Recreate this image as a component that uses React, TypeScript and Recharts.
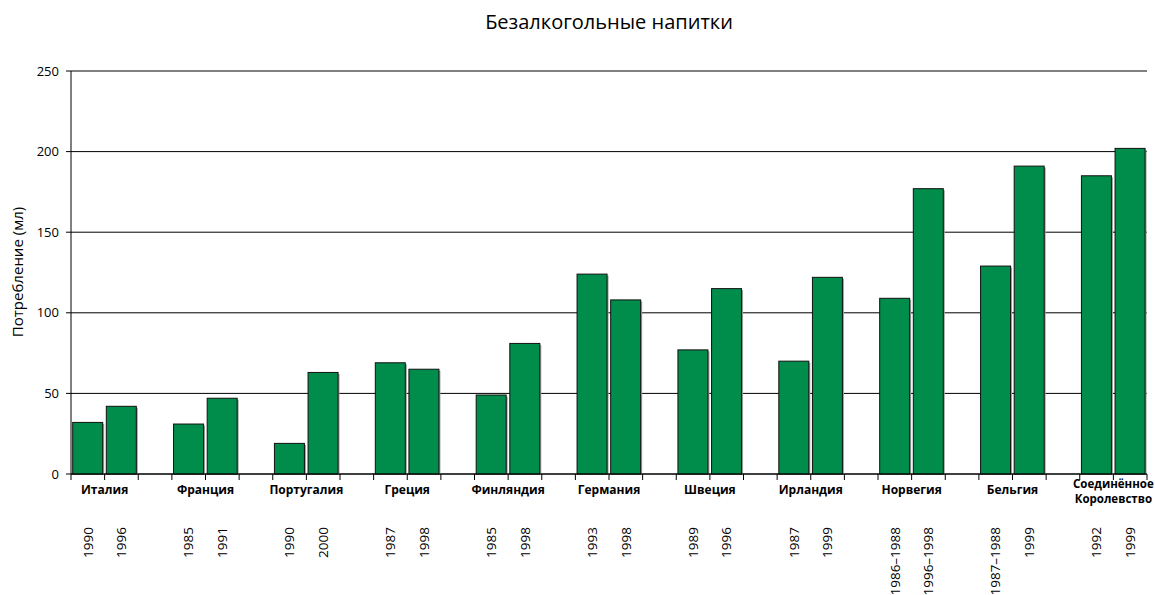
import { BarChart, Bar, XAxis, YAxis, CartesianGrid } from "recharts";

document.body.style.margin = "0";

const countries = [
  "Италия",
  "Франция",
  "Португалия",
  "Греция",
  "Финляндия",
  "Германия",
  "Швеция",
  "Ирландия",
  "Норвегия",
  "Бельгия",
  "Соединённое Королевство",
];
const firstYears = ["1990", "1985", "1990", "1987", "1985", "1993", "1989", "1987", "1986–1988", "1987–1988", "1992"];
const secondYears = ["1996", "1991", "2000", "1998", "1998", "1998", "1996", "1999", "1996–1998", "1999", "1999"];
const firstValues = [32, 31, 19, 69, 49, 124, 77, 70, 109, 129, 185];
const secondValues = [42, 47, 63, 65, 81, 108, 115, 122, 177, 191, 202];
const yTicks = [0, 50, 100, 150, 200, 250];

type Row = { key: string; value: number | null; year: string; country: string };

const rows: Row[] = [];
countries.forEach((c, i) => {
  rows.push({ key: `${i}a`, value: firstValues[i], year: firstYears[i], country: c });
  rows.push({ key: `${i}b`, value: secondValues[i], year: secondYears[i], country: "" });
  if (i < countries.length - 1) rows.push({ key: `${i}gap`, value: null, year: "", country: "" });
});

const FONT = "'Open Sans', 'Noto Sans', sans-serif";
const PLOT_LEFT = 71;
const PLOT_RIGHT = 1147;
const BAND = (PLOT_RIGHT - PLOT_LEFT) / rows.length;

function XTick(props: any) {
  const { x, y, payload } = props;
  const idx = rows.findIndex((r) => r.key === payload.value);
  const row = rows[idx];
  const left = x - BAND / 2;
  const lines = row.country ? row.country.split(" ") : [];
  return (
    <g>
      <line x1={left} x2={left} y1={y} y2={y + 6} stroke="#000" />
      {idx === rows.length - 1 && <line x1={x + BAND / 2} x2={x + BAND / 2} y1={y} y2={y + 6} stroke="#000" />}
      {lines.map((l, k) => (
        <text
          key={k}
          x={x + BAND / 2}
          y={y + (lines.length > 1 ? 14 + k * 15 : 20)}
          textAnchor="middle"
          fontFamily={FONT}
          fontWeight="bold"
          fontSize={lines.length > 1 ? 11.5 : 12}
          fill="#000"
        >
          {l}
        </text>
      ))}
      {row.year && (
        <text
          x={x}
          y={y + 53}
          dy="0.35em"
          textAnchor="end"
          transform={`rotate(-90, ${x}, ${y + 53})`}
          fontFamily={FONT}
          fontSize={13.5}
          fill="#000"
        >
          {row.year}
        </text>
      )}
    </g>
  );
}

function ShadowBar(props: any) {
  const { x, y, width, height } = props;
  if (!height || height <= 0) return null;
  return (
    <g>
      <rect x={x + 1.5} y={y + 1.5} width={width} height={height - 1.5} fill="#a0a0a0" />
      <rect x={x} y={y} width={width} height={height} fill="#008C4A" stroke="#111" strokeWidth={1} />
    </g>
  );
}

export default function App() {
  return (
    <div style={{ position: "relative", width: 1155, height: 595, background: "#fff", overflow: "hidden" }}>
      <div
        style={{
          position: "absolute",
          left: PLOT_LEFT,
          width: PLOT_RIGHT - PLOT_LEFT,
          top: 8,
          textAlign: "center",
          fontFamily: FONT,
          fontSize: 20,
          color: "#000",
        }}
      >
        Безалкогольные напитки
      </div>
      <div
        style={{
          position: "absolute",
          left: 17,
          top: 272,
          transform: "translate(-50%, -50%) rotate(-90deg)",
          whiteSpace: "nowrap",
          fontFamily: FONT,
          fontSize: 15,
          color: "#000",
        }}
      >
        Потребление (мл)
      </div>
      <BarChart
        width={1155}
        height={595}
        data={rows}
        margin={{ top: 71, right: 1155 - PLOT_RIGHT, left: 21, bottom: 0 }}
        barCategoryGap="5%"
        style={{ position: "absolute", left: 0, top: 0 }}
      >
        <CartesianGrid vertical={false} stroke="#000" strokeWidth={1} />
        <XAxis
          dataKey="key"
          interval={0}
          height={121}
          tickLine={false}
          tickSize={0}
          tickMargin={0}
          axisLine={{ stroke: "#000" }}
          tick={<XTick />}
        />
        <YAxis
          width={50}
          domain={[0, 250]}
          ticks={yTicks}
          interval={0}
          tickSize={5}
          tickMargin={7}
          axisLine={{ stroke: "#000" }}
          tickLine={{ stroke: "#000" }}
          tick={{ fill: "#000", fontSize: 13, fontFamily: FONT }}
        />
        <Bar dataKey="value" shape={<ShadowBar />} isAnimationActive={false} />
      </BarChart>
    </div>
  );
}
